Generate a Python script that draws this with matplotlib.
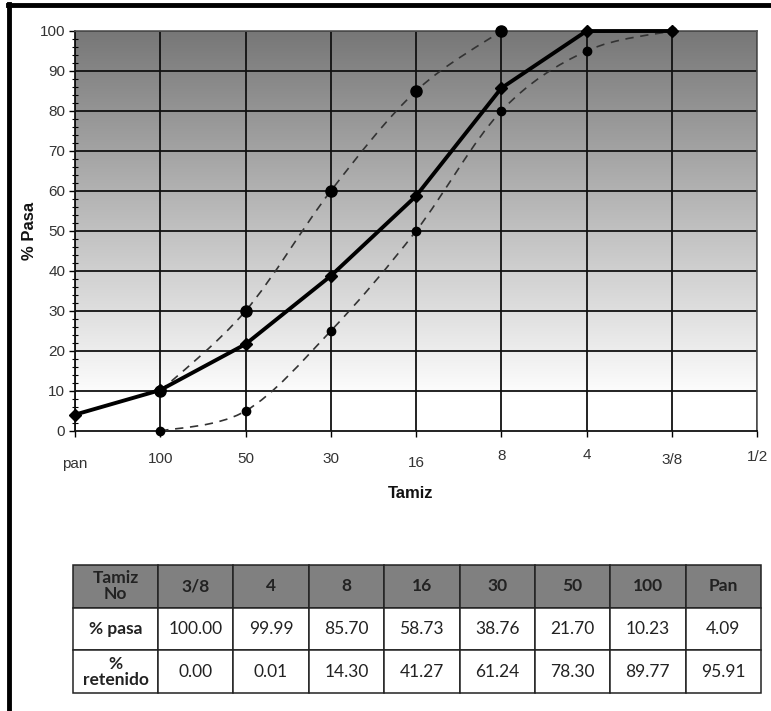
import numpy as np
import matplotlib
matplotlib.use("Agg")
import matplotlib.pyplot as plt
from matplotlib.path import Path
from matplotlib.patches import PathPatch
from matplotlib.lines import Line2D
from matplotlib.colors import LinearSegmentedColormap

# ---------------- data ----------------
sieve_labels = ["pan", "100", "50", "30", "16", "8", "4", "3/8", "1/2"]
pasa = [4.09, 10.23, 21.70, 38.76, 58.73, 85.70, 99.99, 100.00]          # pan .. 3/8
upper_idx = [1, 2, 3, 4, 5]
upper_vals = [10, 30, 60, 85, 100]
lower_idx = [1, 2, 3, 4, 5, 6, 7]
lower_vals = [0, 5, 25, 50, 80, 95, 100]

table_cols = ["Tamiz\nNo", "3/8", "4", "8", "16", "30", "50", "100", "Pan"]
table_pasa = ["100.00", "99.99", "85.70", "58.73", "38.76", "21.70", "10.23", "4.09"]
table_ret = ["0.00", "0.01", "14.30", "41.27", "61.24", "78.30", "89.77", "95.91"]

plt.rcParams['font.family'] = ['Liberation Sans', 'DejaVu Sans']
W, H = 771, 711
fig = plt.figure(figsize=(W / 100, H / 100), dpi=100)

def fx(px):
    return px / W

def fy(py):
    return 1 - py / H

# main axes
l, r, t, b = 75, 757, 31, 431
ax = fig.add_axes([fx(l), fy(b), fx(r - l), (b - t) / H])
ax.set_xlim(0, len(sieve_labels) - 1)
ax.set_ylim(0, 100)

# gradient background
grad = np.linspace(0, 1, 256).reshape(-1, 1)
cmap = LinearSegmentedColormap.from_list("g", [(0, "#ffffff"), (0.08, "#ffffff"), (1, "#777777")])
ax.imshow(grad, extent=[0, 8, 0, 100], origin="lower", aspect="auto", cmap=cmap,
          vmin=0, vmax=1, zorder=0)

# grid
for i in range(len(sieve_labels)):
    ax.axvline(i, color="#111111", lw=1.3, zorder=1)
for v in range(10, 101, 10):
    ax.axhline(v, color="#111111", lw=1.3, zorder=1)

# smooth curve helper (Excel-like cardinal spline rendered as Bezier path)
def smooth_path(xs, ys):
    pts = np.column_stack([xs, ys]).astype(float)
    n = len(pts)
    verts = [pts[0]]
    codes = [Path.MOVETO]
    for i in range(n - 1):
        p0 = pts[i - 1] if i > 0 else pts[i]
        p1 = pts[i]
        p2 = pts[i + 1]
        p3 = pts[i + 2] if i + 2 < n else pts[i + 1]
        c1 = p1 + (p2 - p0) / 6.0
        c2 = p2 - (p3 - p1) / 6.0
        verts += [c1, c2, p2]
        codes += [Path.CURVE4] * 3
    return Path(verts, codes)

for xs, ys, ms in [(upper_idx, upper_vals, 8), (lower_idx, lower_vals, 6)]:
    p = PathPatch(smooth_path(xs, ys), facecolor="none", edgecolor="#333333",
                  lw=1.2, linestyle=(0, (5, 4)), zorder=3)
    ax.add_patch(p)
    ax.plot(xs, ys, linestyle="none", marker="o", ms=ms, color="#000000", zorder=4,
            clip_on=False)

xm = list(range(len(pasa)))
ax.plot(xm, pasa, color="#000000", lw=2.8, marker="D", ms=6, zorder=5, clip_on=False)

# axes styling
for s in ["top", "right"]:
    ax.spines[s].set_color("#555555")
    ax.spines[s].set_linewidth(1.2)
ax.spines["left"].set_color("#111111")
ax.spines["bottom"].set_color("#111111")
ax.spines["left"].set_linewidth(1.3)
ax.spines["bottom"].set_linewidth(1.3)

ax.set_yticks(range(0, 101, 10))
ax.set_yticks(range(0, 101, 2), minor=True)
ax.tick_params(axis="y", which="major", direction="out", length=4, width=1,
               labelsize=11, labelcolor="#333333", pad=3)
ax.tick_params(axis="y", which="minor", direction="inout", length=4, width=0.8)

ax.set_xticks(range(len(sieve_labels)))
ax.set_xticklabels(sieve_labels)
ax.tick_params(axis="x", which="major", direction="out", length=4, width=1,
               labelsize=11, labelcolor="#333333")
pads_px = [20, 15, 15, 15, 19, 12, 11, 16, 13]
for tk, p in zip(ax.xaxis.get_major_ticks(), pads_px):
    tk.set_pad(p * 0.72)

fig.text(fx(411), fy(493), "Tamiz", ha="center", va="center", fontsize=12,
         fontweight="bold", color="#111111")
fig.text(fx(30), fy(231), "% Pasa", ha="center", va="center", rotation=90,
         fontsize=12, fontweight="bold", color="#111111")

# ---------------- table ----------------
tl, tr, tt, tb = 73, 761, 565, 693
tax = fig.add_axes([fx(tl), fy(tb), fx(tr - tl), (tb - tt) / H])
tax.axis("off")
cell_text = [[table_cols[0]] + table_cols[1:],
             ["% pasa"] + table_pasa,
             ["%\nretenido"] + table_ret]
first_w = 85 / (tr - tl)
other_w = (1 - first_w) / 8
widths = [first_w] + [other_w] * 8
tbl = tax.table(cellText=cell_text, colWidths=widths, loc="center", bbox=[0, 0, 1, 1],
                cellLoc="center")
tbl.auto_set_font_size(False)
for (row, col), cell in tbl.get_celld().items():
    cell.set_edgecolor("#222222")
    cell.set_linewidth(1.1)
    txt = cell.get_text()
    txt.set_fontfamily(["Lato", "DejaVu Sans"])
    txt.set_fontsize(12.5)
    txt.set_color("#222222")
    txt.set_linespacing(1.0)
    if row == 0:
        cell.set_facecolor("#808080")
        txt.set_fontweight("bold")
    else:
        cell.set_facecolor("#ffffff")
        if col == 0:
            txt.set_fontweight("bold")

# outer frame (left and top)
fig.add_artist(Line2D([fx(9), fx(9)], [fy(4), 0], color="black", lw=3.5))
fig.add_artist(Line2D([fx(7.5), 1], [fy(4.5), fy(4.5)], color="black", lw=3.5))

fig.savefig("out.png", dpi=100)
